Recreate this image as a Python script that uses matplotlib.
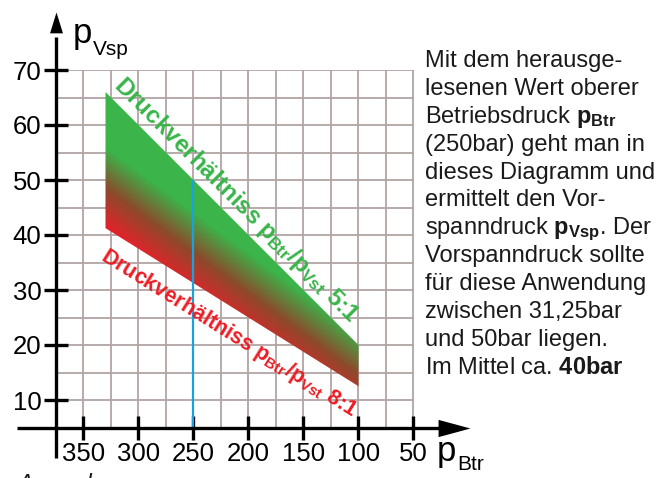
import numpy as np
import matplotlib
matplotlib.use("Agg")
import matplotlib.pyplot as plt
from matplotlib.colors import LinearSegmentedColormap
from matplotlib.patches import Polygon
from matplotlib.path import Path

plt.rcParams['font.family'] = ['Liberation Sans', 'DejaVu Sans']
plt.rcParams['mathtext.fontset'] = 'custom'
plt.rcParams['mathtext.rm'] = 'Liberation Sans'
plt.rcParams['mathtext.bf'] = 'Liberation Sans:bold'
plt.rcParams['mathtext.it'] = 'Liberation Sans:italic'
plt.rcParams['mathtext.default'] = 'rm'

# Betriebsdruck (x) und Vorspanndruck (y) an den Enden des Bereichs
p_btr = [330, 100]
p_vsp_5zu1 = [66, 20]        # Druckverhältnis 5:1
p_vsp_8zu1 = [41.25, 12.5]   # Druckverhältnis 8:1

# Ablesebeispiel
p_btr_bsp = 250
p_vsp_bsp = 50

x_ticks = [350, 300, 250, 200, 150, 100, 50]
y_ticks = [10, 20, 30, 40, 50, 60, 70]

text_zeilen = [
    "Mit dem herausge-",
    "lesenen Wert oberer",
    r"Betriebsdruck $\mathbf{p_{Btr}}$",
    "(250bar) geht man in",
    "dieses Diagramm und",
    "ermittelt den Vor-",
    r"spanndruck $\mathbf{p_{Vsp}}$. Der",
    "Vorspanndruck sollte",
    "für diese Anwendung",
    "zwischen 31,25bar",
    "und 50bar liegen.",
    r"Im Mittel ca. $\mathbf{40bar}$",
]

W, H = 669, 478
fig = plt.figure(figsize=(W / 100, H / 100), dpi=100)
# Achsenbereich = Gitterfläche (x 375..50, y 5..70)
ax = fig.add_axes([56 / W, 50.5 / H, 357.5 / W, 357.5 / H])
for s in ax.spines.values():
    s.set_visible(False)

# Gitter
ax.set_xticks(x_ticks)
ax.set_xticks(np.arange(50, 376, 25), minor=True)
ax.set_yticks(y_ticks)
ax.set_yticks(np.arange(5, 71, 5), minor=True)
ax.grid(which='both', color='#b2a4a4', lw=1.3, zorder=0)
ax.tick_params(which='minor', length=0)
ax.tick_params(which='major', direction='inout', length=17, width=2.4,
               color='black', labelsize=18.5, pad=2)
ax.set_axisbelow(True)

# Farbverlauf zwischen 8:1 und 5:1
cmap = LinearSegmentedColormap.from_list(
    'rotgruen', ['#e8202a', '#8c4a2c', '#3bb54a'],
)
xs = np.linspace(min(p_btr), max(p_btr), 300)
ys = np.linspace(min(p_vsp_8zu1), max(p_vsp_5zu1), 300)
X, Y = np.meshgrid(xs, ys)
S = Y - (13 + 0.148 * (X - 100))
T = np.clip((S + 6) / 15, 0, 1)
im = ax.imshow(T, extent=(xs[0], xs[-1], ys[0], ys[-1]), origin='lower',
               cmap=cmap, vmin=0, vmax=1, aspect='auto',
               interpolation='bilinear', zorder=2)
band = Polygon(np.column_stack([p_btr + p_btr[::-1], p_vsp_5zu1 + p_vsp_8zu1[::-1]]),
               closed=True, facecolor='none', edgecolor='none',
               transform=ax.transData)
ax.add_patch(band)
im.set_clip_path(band)
ax.set_xlim(375, 50)
ax.set_ylim(5, 70)

# Ablesebeispiel 250 bar
ax.vlines(p_btr_bsp, 5, p_vsp_bsp, color='#17a2e0', lw=1.6, zorder=3)

# Achsen mit Pfeilspitzen
pfeil_x = Path([(-1, -0.27), (0, 0), (-1, 0.27), (-1, -0.27)],
               [Path.MOVETO, Path.LINETO, Path.LINETO, Path.CLOSEPOLY])
pfeil_y = Path([(-0.31, -1), (0, 0), (0.31, -1), (-0.31, -1)],
               [Path.MOVETO, Path.LINETO, Path.LINETO, Path.CLOSEPOLY])
ax.plot([410, 10], [5, 5], color='black', lw=2.4, clip_on=False, zorder=5,
        solid_capstyle='butt')
ax.plot([-1.5], [5], marker=pfeil_x, ms=46, color='black', mew=0,
        clip_on=False, zorder=5)
ax.plot([375, 375], [-0.6, 76], color='black', lw=2.4, clip_on=False, zorder=5,
        solid_capstyle='butt')
ax.plot([375], [80.5], marker=pfeil_y, ms=30, color='black', mew=0,
        clip_on=False, zorder=5)

# Achsenbeschriftungen
ax.text(359.5, 74.9, 'p', fontsize=25, ha='left', va='baseline')
ax.text(341, 72.7, 'Vsp', fontsize=15, ha='left', va='baseline')
ax.text(28.6, -1.1, 'p', fontsize=25, ha='left', va='baseline')
ax.text(10.5, -2.7, 'Btr', fontsize=15, ha='left', va='baseline')


def winkel(x0, y0, x1, y1):
    p0 = ax.transData.transform((x0, y0))
    p1 = ax.transData.transform((x1, y1))
    return np.degrees(np.arctan2(p1[1] - p0[1], p1[0] - p0[0]))


w5 = winkel(p_btr[0], p_vsp_5zu1[0], p_btr[1], p_vsp_5zu1[1])
w8 = winkel(p_btr[0], p_vsp_8zu1[0], p_btr[1], p_vsp_8zu1[1])
ax.text(323, 67.1, r'Druckverhältniss $\mathbf{p_{Btr}/p_{Vst}}$ 5:1',
        color='#39b54a', fontsize=17.5, fontweight='bold', rotation=w5,
        rotation_mode='anchor', ha='left', va='baseline', zorder=4)
ax.text(335, 35.6, r'Druckverhältniss $\mathbf{p_{Btr}/p_{Vst}}$ 8:1',
        color='#ed1c24', fontsize=15.5, fontweight='bold', rotation=w8,
        rotation_mode='anchor', ha='left', va='baseline', zorder=4)

# Erläuterung rechts
for i, zeile in enumerate(text_zeilen):
    fig.text(425 / W, 1 - (67 + i * 27.9) / H, zeile, fontsize=17,
             ha='left', va='baseline', color='#1a1a1a')

fig.text(17 / W, 1 - 491 / H, 'Anmerkung', fontsize=17, style='italic',
         ha='left', va='baseline', color='#1a1a1a')

fig.savefig('out.png', dpi=100)
